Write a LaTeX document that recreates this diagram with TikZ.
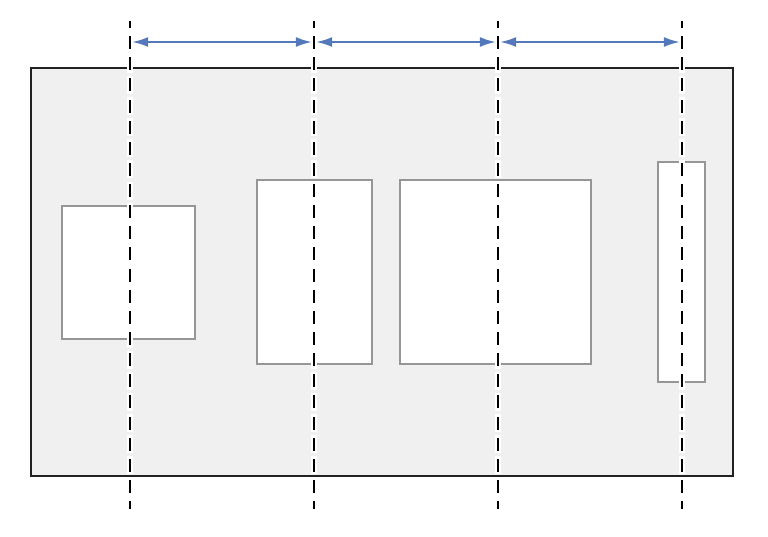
\documentclass[tikz,border=0pt]{standalone}
\usetikzlibrary{arrows.meta,positioning}
\definecolor{sheetgray}{RGB}{240,240,240}
\definecolor{edgegray}{RGB}{150,150,150}
\definecolor{rulerblue}{RGB}{84,120,188}

\begin{document}
\begin{tikzpicture}[x=0.75pt,y=-0.75pt,
      sheet/.style={draw=black!87,fill=sheetgray,line width=2.1pt,minimum width=526.5pt,minimum height=306pt,inner sep=0pt},
      box/.style={draw=edgegray,fill=white,line width=1pt,inner sep=0pt},
      halo/.style={white,line width=3.8pt,line cap=rect,dash pattern=on 9.75pt off 6.1pt,dash phase=4.5pt},
      cut/.style={black,line width=1.6pt,dash pattern=on 9.75pt off 6.1pt,dash phase=4.5pt},
      span/.style={rulerblue,line width=1.5pt,{Latex[length=12pt,width=7.5pt]}-{Latex[length=12pt,width=7.5pt]},shorten <=1.6pt,shorten >=1.6pt}]
    \useasboundingbox (0,0) rectangle (768,536);
    % Sheet with its parts
    \node[sheet] (board) at (382,272) {};
    \node[box,minimum width=99.75pt,minimum height=99.75pt] (p1) at (128.5,272.5) {};
    \node[box,minimum width=86.25pt,minimum height=138pt]   (p2) at (314.5,272) {};
    \node[box,minimum width=143.25pt,minimum height=138pt]  (p3) at (495.5,272) {};
    \node[box,minimum width=35.25pt,minimum height=165pt]   (p4) at (681.5,272) {};
    % Cut lines
    \foreach \x [count=\i] in {130,314,498,682} {
      \coordinate (top\i) at (\x,21);
      \coordinate (bot\i) at (\x,509);
      \coordinate (mark\i) at (\x,42);
      \draw[halo] (top\i)--(bot\i);
      \draw[cut] (top\i)--(bot\i);
    }
    % Spacing arrows
    \foreach \i/\j in {1/2,2/3,3/4}
      \draw[span] (mark\i)--(mark\j);
  \end{tikzpicture}
\end{document}
